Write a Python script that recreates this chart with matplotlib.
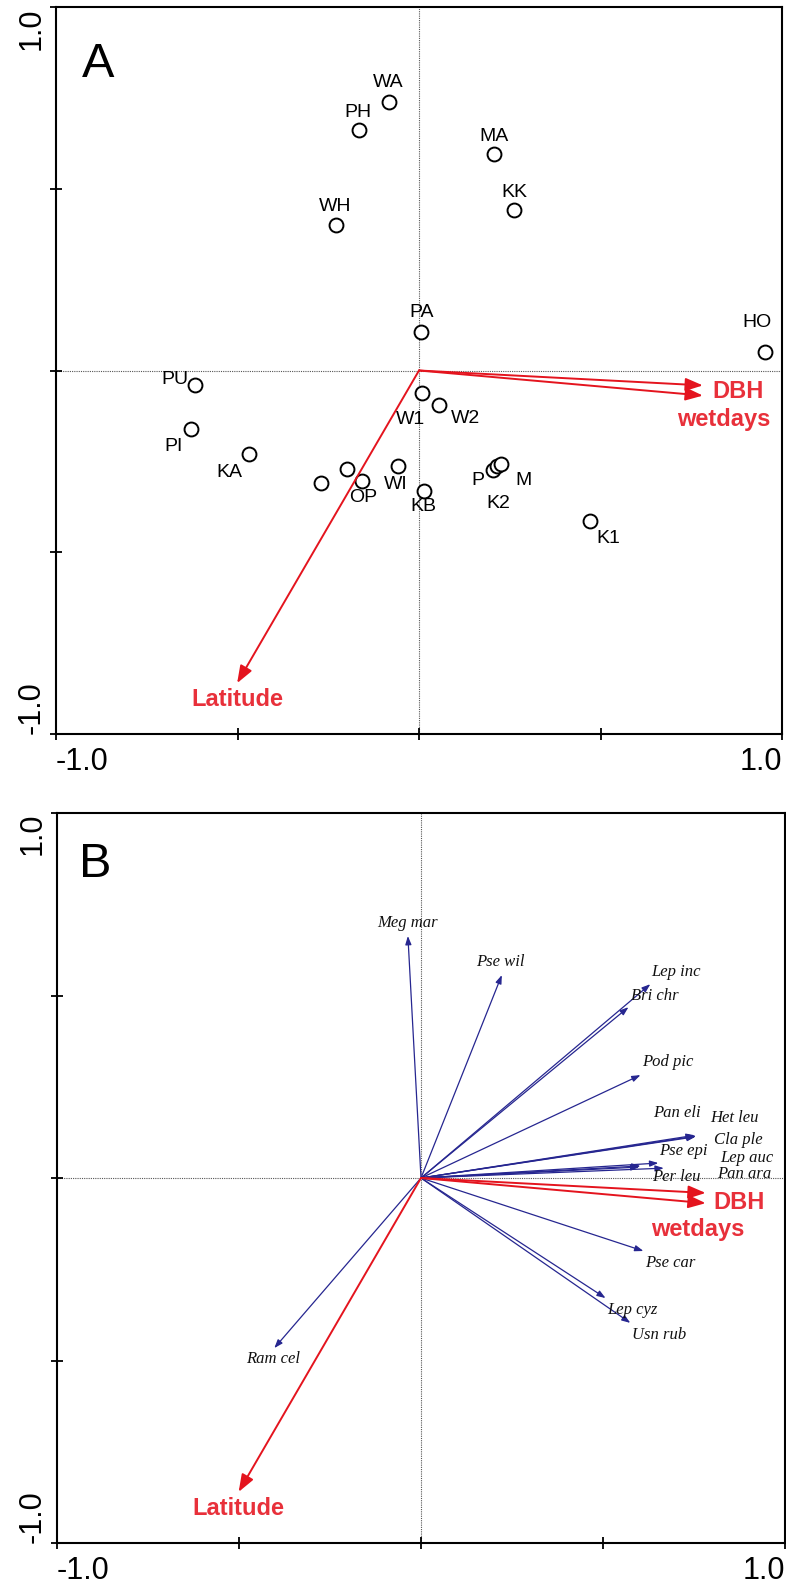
import matplotlib
matplotlib.use("Agg")
import matplotlib.pyplot as plt

# ---------------- data ----------------
# Panel A: site scores
site_names = ["WA", "PH", "WH", "MA", "KK", "PA", "HO", "PU", "PI", "KA",
              "", "", "OP", "WI", "W1", "W2", "KB", "P", "K2", "M", "K1"]
site_x = [-0.083, -0.165, -0.229, 0.207, 0.262, 0.006, 0.953, -0.617, -0.628, -0.468,
          -0.270, -0.198, -0.157, -0.058, 0.008, 0.055, 0.014, 0.204, 0.215, 0.226, 0.471]
site_y = [0.738, 0.661, 0.399, 0.595, 0.441, 0.105, 0.052, -0.041, -0.160, -0.231,
          -0.309, -0.270, -0.303, -0.262, -0.063, -0.096, -0.331, -0.273, -0.264, -0.256, -0.413]
# label anchor positions (data coords) for site names
site_lab_x = [-0.085, -0.168, -0.231, 0.207, 0.262, 0.006, 0.931, -0.672, -0.675, -0.523,
              0, 0, -0.154, -0.063, -0.022, 0.129, 0.011, 0.163, 0.218, 0.287, 0.521]
site_lab_y = [0.793, 0.711, 0.452, 0.645, 0.490, 0.160, 0.132, -0.025, -0.209, -0.281,
              0, 0, -0.350, -0.314, -0.135, -0.132, -0.375, -0.303, -0.366, -0.303, -0.463]

# Environmental variables (both panels)
env_names = ["DBH", "wetdays", "Latitude"]
env_x = [0.782, 0.782, -0.501]
env_y = [-0.041, -0.069, -0.860]
envA_lab_x = [0.88, 0.84, -0.501]
envA_lab_y = [-0.058, -0.134, -0.905]
envB_lab_x = [0.874, 0.759, -0.501]
envB_lab_y = [-0.066, -0.142, -0.905]

# Panel B: species scores
sp_names = ["Meg mar", "Pse wil", "Lep inc", "Bri chr", "Pod pic", "Pan eli", "Het leu",
            "Cla ple", "Pse epi", "Lep auc", "Pan ara", "Per leu", "Pse car", "Lep cyz",
            "Usn rub", "Ram cel"]
sp_x = [-0.036, 0.222, 0.630, 0.570, 0.603, 0.756, 0.754, 0.752, 0.652, 0.603, 0.667,
        0.600, 0.611, 0.507, 0.575, -0.403]
sp_y = [0.663, 0.556, 0.531, 0.468, 0.282, 0.115, 0.113, 0.117, 0.041, 0.033, 0.027,
        0.030, -0.200, -0.329, -0.397, -0.466]
sp_lab_x = [-0.038, 0.219, 0.701, 0.641, 0.677, 0.704, 0.860, 0.871, 0.721, 0.896, 0.888,
            0.701, 0.685, 0.581, 0.655, -0.405]
sp_lab_y = [0.699, 0.592, 0.564, 0.499, 0.318, 0.178, 0.164, 0.104, 0.074, 0.055, 0.011,
            0.003, -0.233, -0.362, -0.430, -0.496]

RED = "#e4141e"
RED_TXT = "#e8303a"
BLUE = "#262690"

fig = plt.figure(figsize=(7.86, 15.87), dpi=100)
axA = fig.add_axes([56 / 786, (1587 - 734) / 1587, 726 / 786, 727 / 1587])
axB = fig.add_axes([57 / 786, (1587 - 1543) / 1587, 728 / 786, 730 / 1587])


def style_axes(ax):
    ax.set_xlim(-1, 1)
    ax.set_ylim(-1, 1)
    for s in ax.spines.values():
        s.set_linewidth(1.5)
        s.set_color("black")
    ax.axhline(0, ls=(0, (1, 1)), color="#555555", lw=0.8, zorder=1)
    ax.axvline(0, ls=(0, (1, 1)), color="#555555", lw=0.8, zorder=1)
    ticks = [-1, -0.5, 0, 0.5, 1]
    ax.set_xticks(ticks)
    ax.set_yticks(ticks)
    ax.set_xticklabels(["-1.0", "", "", "", "1.0"], fontsize=22, family="Liberation Sans")
    ax.set_yticklabels(["-1.0", "", "", "", "1.0"], fontsize=22, family="Liberation Sans",
                       rotation=90)
    ax.tick_params(direction="inout", length=8, width=1.3, pad=3)
    ax.tick_params(axis="x", pad=5.5)
    xl = ax.get_xticklabels()
    xl[0].set_ha("left")
    xl[-1].set_ha("right")
    yl = ax.get_yticklabels()
    yl[0].set_va("bottom")
    yl[-1].set_va("top")
    for t in yl:
        t.set_ha("right")


def draw_env(ax, lab_x, lab_y):
    for name, x, y, lx, ly in zip(env_names, env_x, env_y, lab_x, lab_y):
        ax.annotate("", xy=(x, y), xytext=(0, 0),
                    arrowprops=dict(arrowstyle="-|>,head_length=0.75,head_width=0.28",
                                    color=RED, lw=1.4, shrinkA=0, shrinkB=0,
                                    mutation_scale=14), zorder=4)
        ax.text(lx, ly, name, color=RED_TXT, fontsize=17, fontweight="bold",
                family="Liberation Sans", ha="center", va="center", zorder=5)


# ---------------- Panel A ----------------
style_axes(axA)
axA.plot(site_x, site_y, ls="none", marker="o", ms=10, mfc="white", mec="black",
         mew=1.4, zorder=3)
for name, lx, ly in zip(site_names, site_lab_x, site_lab_y):
    if name:
        axA.text(lx, ly, name, fontsize=14, family="Liberation Sans", ha="center",
                 va="center", color="black", zorder=5)
draw_env(axA, envA_lab_x, envA_lab_y)
axA.text(0.058, 0.904, "A", transform=axA.transAxes, fontsize=35,
         family="Liberation Sans", ha="center", va="baseline")

# ---------------- Panel B ----------------
style_axes(axB)
for name, x, y, lx, ly in zip(sp_names, sp_x, sp_y, sp_lab_x, sp_lab_y):
    axB.annotate("", xy=(x, y), xytext=(0, 0),
                 arrowprops=dict(arrowstyle="-|>,head_length=0.5,head_width=0.18",
                                 color=BLUE, lw=0.9, shrinkA=0, shrinkB=0,
                                 mutation_scale=10), zorder=3)
    axB.text(lx, ly, name, fontsize=12, family="Liberation Serif", style="italic",
             ha="center", va="center", color="#111111", zorder=5)
draw_env(axB, envB_lab_x, envB_lab_y)
axB.text(0.052, 0.912, "B", transform=axB.transAxes, fontsize=35,
         family="Liberation Sans", ha="center", va="baseline")

fig.savefig("out.png", dpi=100)
